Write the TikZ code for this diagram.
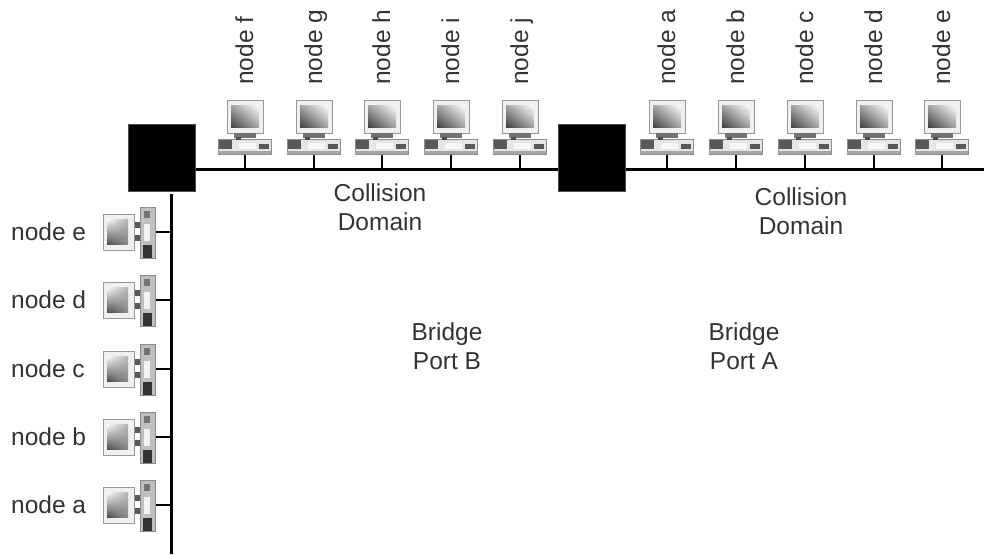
\documentclass[tikz,border=0pt]{standalone}
\usepackage{fontspec}
\usetikzlibrary{shadings}
\setmainfont{Liberation Sans}
\tikzset{
  lbl/.style={font=\fontsize{24.5}{29.5}\selectfont,text=black!80,inner sep=0pt,align=center,text height=18pt,text depth=5pt},
  capt/.style={font=\fontsize{24.5}{29.5}\selectfont,text=black!80,inner sep=0pt,align=center},
  wire/.style={draw=black,line width=3pt},
  stem/.style={draw=black,line width=2.4pt},
  bridgebox/.style={fill=black,draw=black!70,line width=0.5pt,minimum width=67pt,minimum height=67pt,inner sep=0pt},
  pics/pc/.style={code={
    % drawn upright with the stem foot at the origin
    \fill[black!6,draw=black!40,line width=0.8pt] (-18,-35) rectangle (18,-68);
    \shade[upper right=white,lower left=black!75,upper left=black!35,lower right=black!35] (-14,-41) rectangle (14,-63);
    \fill[black!55] (-11,-30) rectangle (11,-35);
    \fill[black!10,draw=black!45,line width=0.6pt] (-27,-14) rectangle (26,-29);
    \fill[black!65] (-26,-19) rectangle (-13,-28);
    \fill[black!70] (-9,-28) rectangle (-4,-31);
    \fill[black!3] (-6,-19) rectangle (11,-25);
    \fill[black!65] (14,-19) rectangle (24,-24);
    \fill[black!35] (-27,-14) rectangle (26,-17);
  }},
  pics/pcside/.style={code={
    % drawn sideways with the stem foot at the origin
    \fill[black!6,draw=black!40,line width=0.8pt] (-52,18) rectangle (-21,-18);
    \shade[upper right=black!30,lower left=black!70,upper left=white,lower right=black!45] (-48,12) rectangle (-27,-13);
    \fill[black!65] (-20,-10) rectangle (-15,-4);
    \fill[black!65] (-20,3) rectangle (-15,9);
    \fill[black!25,draw=black!45,line width=0.6pt] (-15,-25) rectangle (0,26);
    \fill[black!55] (-11,-21) rectangle (-5,-14);
    \fill[black!5] (-11,-8) rectangle (-5,9);
    \fill[black!80] (-12,13) rectangle (-3,26);
  }}
}
\begin{document}
\begin{tikzpicture}[x=1pt,y=-1pt]
\useasboundingbox (0,0) rectangle (984,554);
% bridge boxes
\node[bridgebox] (brB) at (162,157.5) {};
\node[bridgebox] (brA) at (592,157.5) {};
% bus ends
\coordinate (busR) at (984,169);
\coordinate (busB) at (171,554);
\coordinate (busT) at (171,194);
\draw[wire] (brB.east |- busR) -- (brA.west |- busR);
\draw[wire] (brA.east |- busR) -- (busR);
\draw[wire] (busT) -- (busB);
% top computers
\foreach \n/\x in {f/245,g/314,h/382,i/451,j/520,a/667,b/736,c/805,d/874,e/942}{
  \coordinate (tap\n) at (\x,169);
  \coordinate (foot\n) at (\x,154);
  \draw[stem] (foot\n) -- (tap\n);
  \pic at (\x,168) {pc};
  \node[lbl,rotate=90,anchor=west] (lab\n) at (\x+1.5,85) {node \n};
}
% left computers
\foreach \n/\y in {e/232,d/300,c/369,b/437,a/505}{
  \coordinate (ltap\n) at (171,\y);
  \coordinate (lfoot\n) at (155,\y);
  \draw[stem] (lfoot\n) -- (ltap\n);
  \pic at (155,\y) {pcside};
  \node[lbl,anchor=west] (llab\n) at (11,\y+1.5) {node \n};
}
% captions
\node[capt] (cd1) at (380,207) {Collision\\Domain};
\node[capt] (cd2) at (801,211) {Collision\\Domain};
\node[capt] (pB) at (447,346) {Bridge\\Port B};
\node[capt] (pA) at (744,346) {Bridge\\Port A};
\end{tikzpicture}
\end{document}
